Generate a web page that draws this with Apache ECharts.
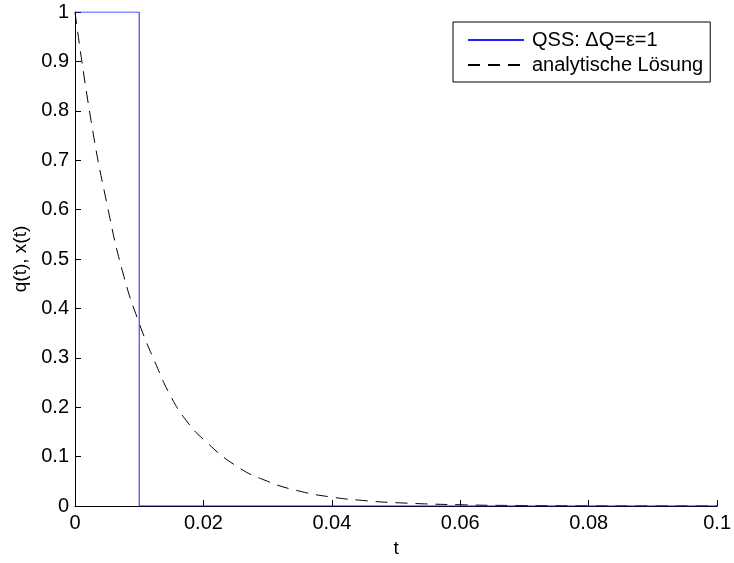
<!DOCTYPE html>
<html><head><meta charset="utf-8">
<script src="https://cdn.jsdelivr.net/npm/echarts@6/dist/echarts.min.js"></script>
<style>html,body{margin:0;padding:0;background:#fff}#c{width:734px;height:563px}</style>
</head><body><div id="c"></div>
<script>
// QSS step solution (t, q)
const qssT = [0, 0.01, 0.01, 0.1];
const qssQ = [1, 1, 0, 0];
// analytic solution samples (t, x)
const anaT = [0, 0.0025, 0.005, 0.0075, 0.01, 0.0125, 0.015, 0.0175, 0.02, 0.025, 0.03, 0.035, 0.04, 0.045, 0.05, 0.06, 0.07, 0.08, 0.09, 0.1];
const anaX = [1, 0.78, 0.61, 0.47, 0.37, 0.29, 0.22, 0.17, 0.135, 0.082, 0.05, 0.03, 0.018, 0.011, 0.0067, 0.0025, 0.0009, 0.0003, 0.0001, 0.00005];
const xTicks = [0, 0.02, 0.04, 0.06, 0.08, 0.1];
const yTicks = [0, 0.1, 0.2, 0.3, 0.4, 0.5, 0.6, 0.7, 0.8, 0.9, 1];
const seriesNames = ['QSS: \u0394Q=\u03b5=1', 'analytische L\u00f6sung'];

const font = 'Liberation Sans, Arial, Helvetica, sans-serif';
const chart = echarts.init(document.getElementById('c'), null, {renderer: 'canvas'});
chart.setOption({
  animation: false,
  backgroundColor: '#fff',
  grid: {left: 75, right: 12, top: 12, bottom: 54},
  xAxis: {
    type: 'value', min: xTicks[0], max: xTicks[xTicks.length - 1], interval: 0.02,
    name: 't', nameLocation: 'middle', nameGap: 33,
    nameTextStyle: {color: '#000', fontFamily: font, fontSize: 19},
    axisLine: {lineStyle: {color: '#000', width: 1}},
    axisTick: {inside: true, length: 6, lineStyle: {color: '#000'}},
    axisLabel: {color: '#000', fontFamily: font, fontSize: 20, margin: 7,
      formatter: v => String(+v.toFixed(4))},
    splitLine: {show: false}
  },
  yAxis: {
    type: 'value', min: yTicks[0], max: yTicks[yTicks.length - 1], interval: 0.1,
    name: 'q(t), x(t)', nameLocation: 'middle', nameGap: 41, nameRotate: 90,
    nameTextStyle: {color: '#000', fontFamily: font, fontSize: 19},
    axisLine: {show: true, lineStyle: {color: '#000', width: 1}},
    axisTick: {show: true, inside: true, length: 6, lineStyle: {color: '#000'}},
    axisLabel: {color: '#000', fontFamily: font, fontSize: 20, margin: 6,
      formatter: v => String(+v.toFixed(4))},
    splitLine: {show: false}
  },
  legend: {
    orient: 'vertical', left: 453, top: 22,
    padding: [8, 7, 7, 14], itemGap: 5, itemWidth: 56, itemHeight: 14,
    backgroundColor: '#fff', borderColor: '#000', borderWidth: 1, borderRadius: 0,
    itemStyle: {opacity: 0},
    textStyle: {color: '#000', fontFamily: font, fontSize: 20, padding: [0, 0, 0, 3]},
    data: seriesNames.map(n => ({name: n}))
  },
  series: [
    {
      name: seriesNames[0], type: 'line', showSymbol: false, symbol: 'none',
      data: qssT.map((t, i) => [t, qssQ[i]]),
      lineStyle: {color: '#1f1fff', width: 1}, itemStyle: {color: '#1f1fff'}, z: 3
    },
    {
      name: seriesNames[1], type: 'line', showSymbol: false, symbol: 'none', smooth: true,
      data: anaT.map((t, i) => [t, anaX[i]]),
      lineStyle: {color: '#000', width: 1, type: [12, 8]}, itemStyle: {color: '#000'}, z: 2
    }
  ]
});
</script></body></html>
